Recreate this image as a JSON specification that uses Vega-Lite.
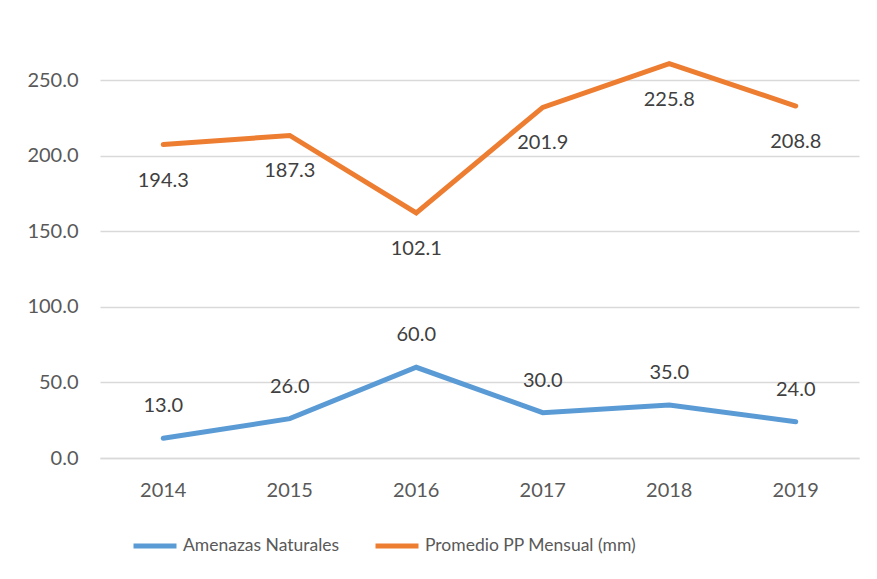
{
  "$schema": "https://vega.github.io/schema/vega-lite/v6.json",
  "width": 759,
  "height": 378,
  "autosize": {"type": "none"},
  "padding": {"left": 100, "top": 80, "right": 18, "bottom": 121},
  "background": "white",
  "config": {
    "font": "Lato",
    "view": {"stroke": null},
    "axis": {"labelFont": "Lato", "labelFontSize": 20, "labelColor": "#595959"},
    "legend": {"labelFont": "Lato", "labelFontSize": 17.5, "labelColor": "#595959"}
  },
  "data": {
    "values": [
      {"year": "2014", "serie": "Amenazas Naturales", "value": 13.0},
      {"year": "2015", "serie": "Amenazas Naturales", "value": 26.0},
      {"year": "2016", "serie": "Amenazas Naturales", "value": 60.0},
      {"year": "2017", "serie": "Amenazas Naturales", "value": 30.0},
      {"year": "2018", "serie": "Amenazas Naturales", "value": 35.0},
      {"year": "2019", "serie": "Amenazas Naturales", "value": 24.0},
      {"year": "2014", "serie": "Promedio PP Mensual (mm)", "value": 194.3},
      {"year": "2015", "serie": "Promedio PP Mensual (mm)", "value": 187.3},
      {"year": "2016", "serie": "Promedio PP Mensual (mm)", "value": 102.1},
      {"year": "2017", "serie": "Promedio PP Mensual (mm)", "value": 201.9},
      {"year": "2018", "serie": "Promedio PP Mensual (mm)", "value": 225.8},
      {"year": "2019", "serie": "Promedio PP Mensual (mm)", "value": 208.8}
    ]
  },
  "transform": [
    {"stack": "value", "groupby": ["year"], "sort": [{"field": "serie", "order": "ascending"}], "as": ["v0", "v1"]}
  ],
  "encoding": {
    "x": {
      "field": "year", "type": "ordinal",
      "scale": {"type": "band", "paddingInner": 0, "paddingOuter": 0},
      "axis": {"title": null, "labelAngle": 0, "ticks": false, "domain": true, "domainColor": "#d9d9d9", "domainWidth": 1.5, "labelPadding": 22}
    },
    "y": {
      "field": "v1", "type": "quantitative",
      "scale": {"domain": [0, 250], "nice": false, "zero": true},
      "axis": {"title": null, "values": [0, 50, 100, 150, 200, 250], "format": ".1f", "ticks": false, "domain": false, "gridColor": "#d9d9d9", "gridWidth": 1.5, "labelPadding": 22}
    }
  },
  "layer": [
    {
      "mark": {"type": "line", "strokeWidth": 5, "strokeCap": "round", "strokeJoin": "miter", "clip": false},
      "encoding": {
        "color": {
          "field": "serie", "type": "nominal",
          "scale": {"domain": ["Amenazas Naturales", "Promedio PP Mensual (mm)"], "range": ["#5B9BD5", "#ED7D31"]},
          "legend": {"title": null, "orient": "none", "legendX": 31, "legendY": 442, "direction": "horizontal", "symbolType": "stroke", "symbolStrokeWidth": 5, "symbolSize": 1849, "columnPadding": 25, "labelOffset": 4, "labelLimit": 0}
        }
      }
    },
    {
      "transform": [{"filter": "datum.serie == 'Amenazas Naturales'"}],
      "mark": {"type": "text", "dy": -32, "fontSize": 20, "color": "#404040", "font": "Lato"},
      "encoding": {"text": {"field": "value", "type": "quantitative", "format": ".1f"}}
    },
    {
      "transform": [{"filter": "datum.serie == 'Promedio PP Mensual (mm)'"}],
      "mark": {"type": "text", "dy": 36, "fontSize": 20, "color": "#404040", "font": "Lato"},
      "encoding": {"text": {"field": "value", "type": "quantitative", "format": ".1f"}}
    }
  ]
}
